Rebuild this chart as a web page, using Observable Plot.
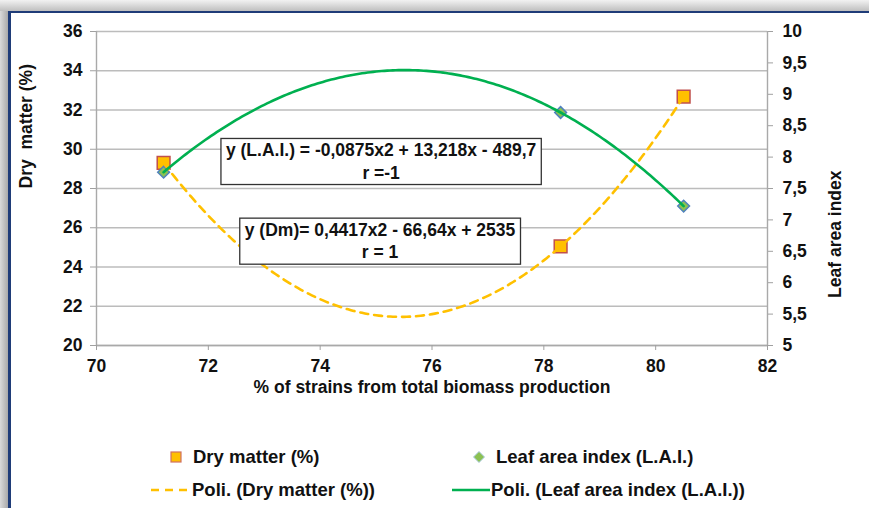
<!DOCTYPE html>
<html><head><meta charset="utf-8">
<script src="https://cdn.jsdelivr.net/npm/d3@7"></script>
<script src="https://cdn.jsdelivr.net/npm/@observablehq/plot@0.6"></script>
<style>
html,body{margin:0;padding:0;}
body{width:869px;height:508px;overflow:hidden;position:relative;background:linear-gradient(to right,#dadada 0,#a9a9a9 8px,#c8c8c8 8px);font-family:"Liberation Sans",Arial,sans-serif;}
#topband{position:absolute;left:0;top:0;width:869px;height:11px;background:linear-gradient(to bottom,#f2f2f2,#bfbfbf);}
#frame{position:absolute;left:8px;top:11px;width:900px;height:600px;border-left:3px solid #1f3c78;border-top:2.5px solid #1f3c78;background:#fff;}
#chart{position:absolute;left:0;top:0;}
.leg{position:absolute;font:bold 18.5px "Liberation Sans",Arial,sans-serif;color:#111;white-space:pre;line-height:22px;}
.sw{position:absolute;line-height:0;}
.sw svg{display:block;}
</style></head><body>
<div id="topband"></div><div id="frame"></div><div id="chart"></div><div id="legend"></div>
<script>
// ---- data ----
const strainPct = [71.2, 78.3, 80.5];          // % of strains from total biomass production
const dryMatter = [29.3, 25.05, 32.68];        // Dry matter (%)
const leafAreaIndex = [7.76, 8.71, 7.22];      // Leaf area index (L.A.I.)
const xTicks = [70, 72, 74, 76, 78, 80, 82];
const dmTicks = [20, 22, 24, 26, 28, 30, 32, 34, 36];
const laiTicks = [5, 5.5, 6, 6.5, 7, 7.5, 8, 8.5, 9, 9.5, 10];
const dmDomain = [20, 36];
const laiDomain = [5, 10];
const eqLabels = ["y (L.A.I.) = -0,0875x2 + 13,218x - 489,7\nr =-1", "y (Dm)= 0,4417x2 - 66,64x + 2535\nr = 1"];
const eqX = [75.09, 75.07];
const eqY = [29.43, 25.37];   // in Dry matter units
const legendLabels = ["Dry matter (%)", "Leaf area index (L.A.I.)", "Poli. (Dry matter (%))", "Poli. (Leaf area index (L.A.I.))"];

// ---- helpers ----
const laiToDm = v => dmDomain[0] + (v - laiDomain[0]) * (dmDomain[1] - dmDomain[0]) / (laiDomain[1] - laiDomain[0]);
const dmToLai = v => laiDomain[0] + (v - dmDomain[0]) * (laiDomain[1] - laiDomain[0]) / (dmDomain[1] - dmDomain[0]);
const comma = v => String(v).replace(".", ",");
// polynomial (order 2) trend line through the series, as in the spreadsheet
function quadFit(xs, ys) {
  const [x0, x1, x2] = xs, [y0, y1, y2] = ys;
  return x => y0 * (x - x1) * (x - x2) / ((x0 - x1) * (x0 - x2))
            + y1 * (x - x0) * (x - x2) / ((x1 - x0) * (x1 - x2))
            + y2 * (x - x0) * (x - x1) / ((x2 - x0) * (x2 - x1));
}
const xs = d3.range(d3.min(strainPct), d3.max(strainPct) + 1e-9, 0.05);
const fDm = quadFit(strainPct, dryMatter);
const fLai = quadFit(strainPct, leafAreaIndex);
const dmPts = strainPct.map((x, i) => ({x, y: dryMatter[i]}));
const laiPts = strainPct.map((x, i) => ({x, y: leafAreaIndex[i]}));
const dmFit = xs.map(x => ({x, y: fDm(x)}));
const laiFit = xs.map(x => ({x, y: fLai(x)}));
const eqs = eqLabels.map((t, i) => ({t, x: eqX[i], y: eqY[i]}));

const FS = 17.5;
const txt = {fontSize: FS, fontWeight: "bold", fill: "#111"};

const chart = Plot.plot({
  width: 869, height: 420,
  marginLeft: 96, marginRight: 102, marginTop: 31, marginBottom: 75,
  x: {domain: [70, 82]},
  y: {domain: dmDomain},
  style: {background: "transparent", fontFamily: "'Liberation Sans', Arial, sans-serif", fontSize: FS + "px", fontWeight: "bold", color: "#111", overflow: "visible"},
  marks: [
    Plot.gridY({ticks: dmTicks, stroke: "#bcbcbc", strokeOpacity: 1, strokeWidth: 1.4}),
    Plot.ruleX([70, 82], {stroke: "#a9a9a9", strokeWidth: 1.4}),
    Plot.ruleY([20], {stroke: "#a9a9a9", strokeWidth: 1.4}),
    Plot.axisY({anchor: "left", ticks: dmTicks, tickSize: 6, tickPadding: 8, stroke: "#a0a0a0", fill: "#111", label: null, tickFormat: d => String(d)}),
    Plot.axisY({anchor: "right", ticks: laiTicks.map(laiToDm), tickSize: 5, tickPadding: 10, stroke: "#a0a0a0", fill: "#111", label: null,
      tickFormat: d => comma(Math.round(dmToLai(d) * 2) / 2)}),
    Plot.axisX({ticks: xTicks, tickSize: 5, tickPadding: 9.5, stroke: "#a0a0a0", fill: "#111", label: null, tickFormat: d => String(d)}),
    Plot.dot(dmPts, {x: "x", y: "y", symbol: "square", r: 7.2, fill: "#ffc000", stroke: "#c0504d", strokeWidth: 1.5}),
    Plot.dot(laiPts, {x: "x", y: d => laiToDm(d.y), symbol: "diamond2", r: 5.3, fill: "#8cc152", stroke: "#4f81bd", strokeWidth: 1.5}),
    Plot.line(dmFit, {x: "x", y: "y", stroke: "#ffc000", strokeWidth: 2.6, strokeDasharray: "8,6"}),
    Plot.line(laiFit, {x: "x", y: d => laiToDm(d.y), stroke: "#00b050", strokeWidth: 2.6}),
    Plot.text(eqs, {x: "x", y: "y", text: "t", lineHeight: 1.26, ...txt}),
    Plot.text(["Dry\u00a0 matter (%)"], {frameAnchor: "left", dx: -70, rotate: -90, ...txt}),
    Plot.text(["Leaf area index"], {frameAnchor: "right", dx: 68, dy: -18, rotate: -90, ...txt}),
    Plot.text(["% of strains from total biomass production"], {frameAnchor: "bottom", dy: 47, ...txt})
  ]
});
document.getElementById("chart").appendChild(chart);

// white boxes behind the equation labels
const eqTexts = Array.from(chart.querySelectorAll("text")).filter(el => el.textContent.startsWith("y ("));
for (const el of eqTexts) {
  const b = el.getBBox();
  const r = document.createElementNS("http://www.w3.org/2000/svg", "rect");
  r.setAttribute("x", b.x - 5); r.setAttribute("y", b.y - 2);
  r.setAttribute("width", b.width + 10); r.setAttribute("height", b.height + 4);
  r.setAttribute("fill", "#fff"); r.setAttribute("stroke", "#333"); r.setAttribute("stroke-width", 1.3);
  const tr = el.getAttribute("transform"); if (tr) r.setAttribute("transform", tr);
  el.parentNode.insertBefore(r, el);
}

// legend
const leg = document.getElementById("legend");
const items = [
  {sw: '<svg width="14" height="14"><rect x="2" y="2" width="10" height="10" fill="#ffc000" stroke="#d07060" stroke-width="1.2"/></svg>', sx: 169, sy: 450, tx: 193, ty: 446, label: legendLabels[0]},
  {sw: '<svg width="14" height="14"><path d="M7 1.5L12.5 7L7 12.5L1.5 7Z" fill="#8cc152" stroke="#a9c9e0" stroke-width="1"/></svg>', sx: 472, sy: 450, tx: 496, ty: 446, label: legendLabels[1]},
  {sw: '<svg width="40" height="6"><line x1="0" y1="3" x2="40" y2="3" stroke="#ffc000" stroke-width="2.6" stroke-dasharray="8,6"/></svg>', sx: 151, sy: 487, tx: 192, ty: 479, label: legendLabels[2]},
  {sw: '<svg width="38" height="6"><line x1="0" y1="3" x2="38" y2="3" stroke="#00b050" stroke-width="2.6"/></svg>', sx: 452, sy: 487, tx: 491, ty: 479, label: legendLabels[3]}
];
for (const it of items) {
  const s = document.createElement("div"); s.className = "sw"; s.style.left = it.sx + "px"; s.style.top = it.sy + "px"; s.innerHTML = it.sw; leg.appendChild(s);
  const t = document.createElement("div"); t.className = "leg"; t.style.left = it.tx + "px"; t.style.top = it.ty + "px"; t.textContent = it.label; leg.appendChild(t);
}
</script>
</body></html>
